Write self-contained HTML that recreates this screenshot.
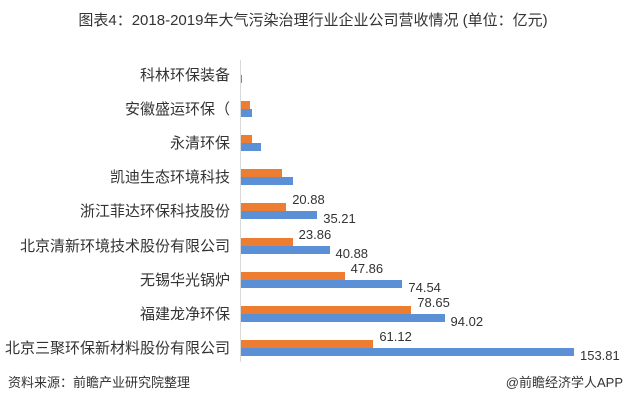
<!DOCTYPE html>
<html><head><meta charset="utf-8"><style>
body{margin:0;width:626px;height:400px;background:#fff;overflow:hidden;font-family:"Liberation Sans","Noto Sans CJK SC",sans-serif;position:relative}
.t{position:absolute;white-space:nowrap}
.c{position:absolute;right:396px;font-size:15px;color:#333;white-space:nowrap}
.b{position:absolute;height:8px}
.o{background:#ed7d31}.u{background:#5b8fd6}
.v{position:absolute;font-size:13px;color:#333}
</style></head><body>
<div class="t" style="left:0;width:626px;text-align:center;top:9px;font-size:15px;color:#333">图表4：2018-2019年大气污染治理行业企业公司营收情况 (单位：亿元)</div>
<div style="position:absolute;left:240px;top:60px;width:1px;height:302px;background:#d9d9d9"></div>
<div id="g"></div>
<div class="t" style="left:8px;top:372px;font-size:13px;color:#333">资料来源：前瞻产业研究院整理</div>
<div class="t" style="right:3px;top:372px;font-size:13px;color:#333">@前瞻经济学人APP</div>
<script>
var d=[["科林环保装备",0,0.5],["安徽盛运环保（",4.2,5],["永清环保",5.3,9.2],["凯迪生态环境科技",18.9,23.8],["浙江菲达环保科技股份",20.88,35.21,1],["北京清新环境技术股份有限公司",23.86,40.88,1],["无锡华光锅炉",47.86,74.54,1],["福建龙净环保",78.65,94.02,1],["北京三聚环保新材料股份有限公司",61.12,153.81,1]];
var k=2.165,h="";
d.forEach(function(r,i){var y=67+34.1*i;
h+='<div class="c" style="top:'+(y-3)+'px">'+r[0]+'</div>';
if(r[1])h+='<div class="b o" style="left:241px;top:'+y+'px;width:'+(r[1]*k)+'px"></div>';
h+='<div class="b u" style="left:241px;top:'+(y+8)+'px;width:'+Math.max(1,r[2]*k)+'px"></div>';
if(r[3]){h+='<div class="v" style="left:'+(247+r[1]*k)+'px;top:'+(y-11)+'px">'+r[1].toFixed(2)+'</div>';
h+='<div class="v" style="left:'+(247+r[2]*k)+'px;top:'+(y+8)+'px">'+r[2].toFixed(2)+'</div>';}
});
document.getElementById('g').innerHTML=h;
</script>
</body></html>
